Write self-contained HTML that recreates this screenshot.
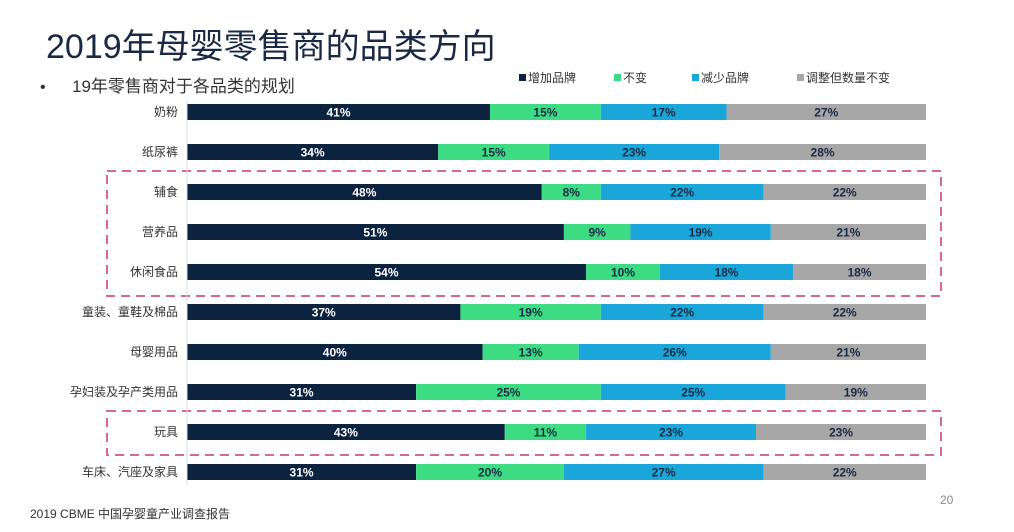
<!DOCTYPE html>
<html><head><meta charset="utf-8"><style>
body{margin:0;background:#fff;}
svg{display:block;font-family:"Liberation Sans","Noto Sans CJK SC",sans-serif;}
</style></head><body>
<svg id="c" width="1014" height="532">
<text x="46" y="58" font-size="34" fill="#1b2a44">2019年母婴零售商的品类方向</text>
<text x="40" y="92" font-size="16" fill="#333">•</text>
<text x="72" y="92" font-size="17" fill="#333">19年零售商对于各品类的规划</text>
<g id="legend"></g>
<g id="bars"></g>
<rect x="107" y="171" width="834" height="125" fill="none" stroke="#d46a94" stroke-width="2" stroke-dasharray="9,6"/>
<rect x="107" y="411" width="834" height="44" fill="none" stroke="#d46a94" stroke-width="2" stroke-dasharray="9,6"/>
<line x1="187" y1="100" x2="187" y2="485" stroke="#ddd" stroke-width="1"/>
<text x="30" y="518" font-size="12" fill="#333">2019 CBME 中国孕婴童产业调查报告</text>
<text x="940" y="504" font-size="12" fill="#888">20</text>
</svg>
<script>
const categories=["奶粉","纸尿裤","辅食","营养品","休闲食品","童装、童鞋及棉品","母婴用品","孕妇装及孕产类用品","玩具","车床、汽座及家具"];
const increase=[41,34,48,51,54,37,40,31,43,31];
const unchanged=[15,15,8,9,10,19,13,25,11,20];
const decrease=[17,23,22,19,18,22,26,25,23,27];
const adjusted=[27,28,22,21,18,22,21,19,23,22];
const seriesNames=["增加品牌","不变","减少品牌","调整但数量不变"];
const series=[increase,unchanged,decrease,adjusted];
const colors=["#0c2340","#3ddc84","#1ba6da","#a7a7a7"];
const textColors=["#fff","#1b2a44","#1b2a44","#1b2a44"];
const NS="http://www.w3.org/2000/svg";
const x0=187,w=739,y0=112,step=40,bh=16;
const xs=v=>v/100*w;
const yc=i=>y0+i*step;
const g=document.getElementById('bars');
function mk(t,a){const e=document.createElementNS(NS,t);for(const k in a)e.setAttribute(k,a[k]);return e;}
categories.forEach((c,i)=>{
  const lab=mk('text',{x:178,y:yc(i)+4,'font-size':12,fill:'#333','text-anchor':'end'});
  lab.textContent=c;
  
  
  g.appendChild(lab);
  let acc=0;
  series.forEach((s,k)=>{
    const v=s[i];
    const r=mk('rect',{x:x0+xs(acc),y:yc(i)-bh/2,width:xs(v),height:bh,fill:colors[k]});
    
    
    g.appendChild(r);
    const t=mk('text',{x:x0+xs(acc+v/2),y:yc(i)+4.5,'font-size':12,'font-weight':'bold',fill:textColors[k],'text-anchor':'middle'});
    t.textContent=v+'%';
    
    
    g.appendChild(t);
    acc+=v;
  });
});
const lg=document.getElementById('legend');
const lx=[519,614,692,797];
seriesNames.forEach((n,k)=>{
  const r=mk('rect',{x:lx[k],y:74,width:7,height:7,fill:colors[k]});
  
  
  lg.appendChild(r);
  const t=mk('text',{x:lx[k]+9,y:82,'font-size':12,fill:'#333'});
  t.textContent=n;
  
  
  lg.appendChild(t);
});
</script>
</body></html>
